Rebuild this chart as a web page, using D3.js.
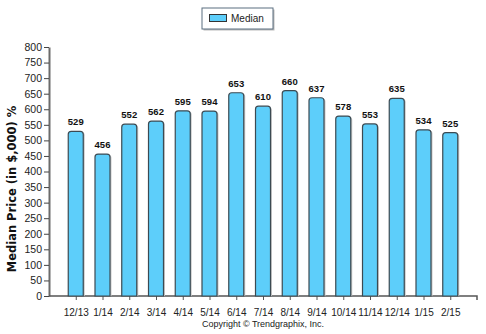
<!DOCTYPE html>
<html>
<head>
<meta charset="utf-8">
<script src="https://cdn.jsdelivr.net/npm/d3@7"></script>
<style>
  html, body { margin: 0; padding: 0; background: #fff; }
  svg { display: block; font-family: Arial, "Liberation Sans", sans-serif; }
</style>
</head>
<body>
<svg id="chart" width="486" height="334"></svg>
<script>
// Monthly median price, in thousands of dollars
const months = ["12/13","1/14","2/14","3/14","4/14","5/14","6/14","7/14","8/14","9/14","10/14","11/14","12/14","1/15","2/15"];
const medianValues = [529, 456, 552, 562, 595, 594, 653, 610, 660, 637, 578, 553, 635, 534, 525];
const yTicks = [0, 50, 100, 150, 200, 250, 300, 350, 400, 450, 500, 550, 600, 650, 700, 750, 800];

const svg = d3.select("#chart");
const plotLeft = 49, plotRight = 477, plotTop = 47, plotBottom = 296;

const x = d3.scalePoint().domain(months).range([plotLeft, plotRight]).padding(1);
const y = d3.scaleLinear().domain([0, 800]).range([plotBottom, plotTop]);

const barW = 15, r = 3;
const fill = "#5dcefa", edge = "#3c4a52";

// Y axis
const yAxis = svg.append("g").attr("transform", `translate(${plotLeft},0)`)
  .call(d3.axisLeft(y).tickValues(yTicks).tickSize(5).tickSizeOuter(0).tickPadding(2));
yAxis.select(".domain").attr("stroke", "#6b6b6b").attr("stroke-width", 2);
yAxis.selectAll(".tick line").attr("stroke", "#444");
yAxis.selectAll("text").attr("font-size", 10.5).attr("fill", "#222");

// X axis
const xAxis = svg.append("g").attr("transform", `translate(0,${plotBottom})`)
  .call(d3.axisBottom(x).tickSize(4).tickSizeOuter(0).tickPadding(9));
xAxis.select(".domain").attr("stroke", "#555").attr("stroke-width", 1.5)
  .attr("d", `M${plotLeft},0H${plotRight}V4`);
xAxis.selectAll(".tick line").attr("stroke", "#555");
xAxis.selectAll("text").attr("font-size", 10).attr("fill", "#222");

// Bars with rounded tops
function barPath(cx, yTop) {
  const x0 = cx - barW / 2, x1 = cx + barW / 2;
  return `M${x0},${plotBottom}V${yTop + r}Q${x0},${yTop} ${x0 + r},${yTop}H${x1 - r}Q${x1},${yTop} ${x1},${yTop + r}V${plotBottom}Z`;
}
const data = months.map((m, i) => ({ m, v: medianValues[i] }));

svg.append("g").selectAll("path").data(data).join("path")
  .attr("d", d => barPath(x(d.m) + 1.5, y(d.v) + 1))
  .attr("fill", "#c8c8c8");

svg.append("g").selectAll("path").data(data).join("path")
  .attr("d", d => barPath(x(d.m), y(d.v)))
  .attr("fill", fill).attr("stroke", edge).attr("stroke-width", 1.2);

svg.append("g").selectAll("text").data(data).join("text")
  .attr("x", d => x(d.m)).attr("y", d => y(d.v) - 6)
  .attr("text-anchor", "middle").attr("font-size", 9.5).attr("font-weight", "bold")
  .attr("fill", "#111").text(d => d.v);

// Y axis title
svg.append("text")
  .attr("transform", "translate(16,189) rotate(-90)")
  .attr("text-anchor", "middle").attr("font-size", 11.5).attr("font-weight", "bold")
  .attr("font-family", "'DejaVu Sans', Verdana, sans-serif")
  .attr("fill", "#111").text("Median Price (in $,000) %");

// Legend
const lg = svg.append("g");
lg.append("rect").attr("x", 203.5).attr("y", 9.5).attr("width", 71).attr("height", 21).attr("fill", "#bbb");
lg.append("rect").attr("x", 202).attr("y", 8).attr("width", 71).attr("height", 21)
  .attr("fill", "#fff").attr("stroke", "#5b6f80").attr("stroke-width", 1);
lg.append("rect").attr("x", 209.5).attr("y", 14.5).attr("width", 17).attr("height", 7)
  .attr("fill", fill).attr("stroke", "#333").attr("stroke-width", 1);
lg.append("text").attr("x", 231).attr("y", 22).attr("font-size", 10).attr("fill", "#222").text("Median");

// Footer
svg.append("text").attr("x", 263).attr("y", 327).attr("text-anchor", "middle")
  .attr("font-size", 9).attr("fill", "#222").text("Copyright © Trendgraphix, Inc.");
</script>
</body>
</html>
